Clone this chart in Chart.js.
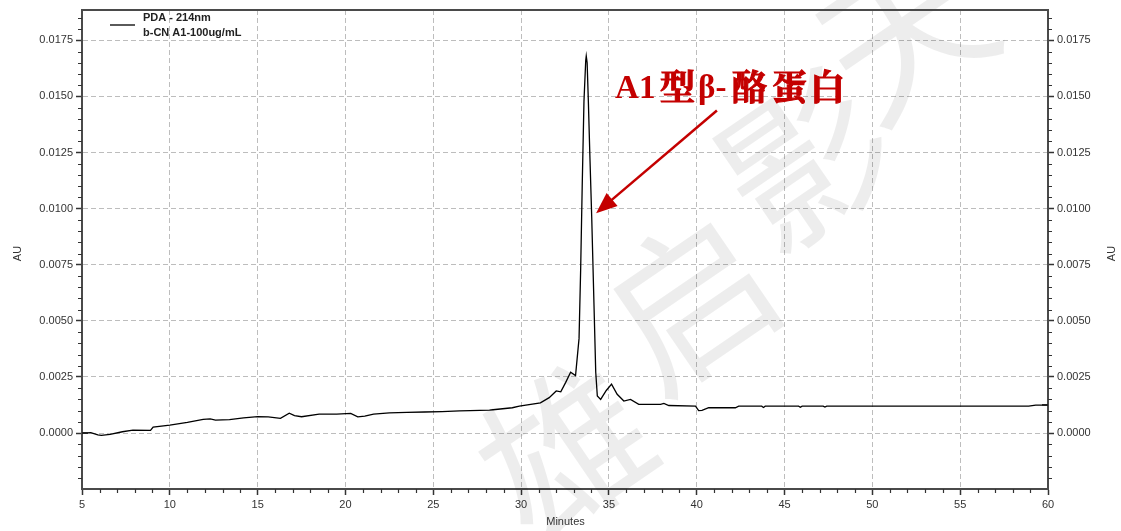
<!DOCTYPE html>
<html>
<head>
<meta charset="utf-8">
<script src="https://cdn.jsdelivr.net/npm/chart.js@4.4.1/dist/chart.umd.min.js"></script>
<style>
  html, body { margin: 0; padding: 0; background: #fff; }
  #wrap { width: 1121px; height: 531px; }
</style>
</head>
<body>
<div id="wrap"><canvas id="pda-chart" width="1121" height="531"></canvas></div>
<script>
// retention time (min) and absorbance (AU)
const minutes = [
  5.0, 5.5, 5.9, 6.1, 6.6, 7.3, 7.9, 8.9, 9.05, 10.0,
  11.0, 11.9, 12.3, 12.6, 13.4, 14.2, 15.0, 15.6, 16.3, 16.8,
  17.1, 17.5, 18.5, 19.5, 20.3, 20.7, 21.1, 21.6, 22.5, 23.5,
  24.5, 25.5, 26.5, 27.1, 28.2, 28.4, 29.5, 29.9, 31.1, 31.6,
  32.0, 32.26, 32.54, 32.82, 33.1, 33.3, 33.39, 33.48, 33.58, 33.68,
  33.71, 33.76, 33.83, 33.91, 34.02, 34.15, 34.25, 34.34, 34.53, 34.85,
  35.15, 35.47, 35.85, 36.23, 36.7, 37.94, 38.13, 38.41, 39.93, 40.11,
  40.3, 40.68, 42.2, 42.39, 43.7, 43.8, 43.9, 45.8, 45.9, 46.0,
  47.2, 47.3, 47.4, 50.0, 55.0, 58.9, 59.3, 60.0
];
const absorbance = [
  0.00000, 0.00002, -0.00008, -0.00010, -0.00006, 0.00006, 0.00013, 0.00012, 0.00027, 0.00036,
  0.00048, 0.00061, 0.00063, 0.00058, 0.00060, 0.00068, 0.00073, 0.00072, 0.00066, 0.00089,
  0.00078, 0.00073, 0.00085, 0.00085, 0.00088, 0.00072, 0.00076, 0.00085, 0.00090, 0.00092,
  0.00094, 0.00096, 0.00099, 0.00100, 0.00102, 0.00104, 0.00113, 0.00120, 0.00135, 0.00158,
  0.00188, 0.00184, 0.00226, 0.00271, 0.00256, 0.00422, 0.00724, 0.01101, 0.01478, 0.01660,
  0.01680, 0.01650, 0.01478, 0.01252, 0.00965, 0.00573, 0.00271, 0.00165, 0.00150, 0.00190,
  0.00218, 0.00173, 0.00143, 0.00150, 0.00128, 0.00128, 0.00132, 0.00123, 0.00120, 0.00100,
  0.00101, 0.00113, 0.00113, 0.00120, 0.00120, 0.00114, 0.00120, 0.00120, 0.00115, 0.00120,
  0.00120, 0.00116, 0.00120, 0.00120, 0.00120, 0.00120, 0.00125, 0.00125
];
const xTicks = [5, 10, 15, 20, 25, 30, 35, 40, 45, 50, 55, 60];
const yTicks = [0, 0.0025, 0.005, 0.0075, 0.01, 0.0125, 0.015, 0.0175];
const legendLines = ["PDA - 214nm", "b-CN A1-100ug/mL"];
const peakLabel = ["A1", "型", "β-", "酪", "蛋", "白"];
const watermark = ["雄", "启", "影", "天"];

const axisColor = "#4a4a4a";
const textColor = "#333333";
const labelFont = { family: "'Liberation Sans', Arial, sans-serif", size: 11 };

const yMin = -0.00249;
const yMax = 0.01885;

function yAxis(position, width) {
  return {
    type: "linear",
    position: position,
    min: yMin,
    max: yMax,
    afterBuildTicks: (scale) => {
      scale.ticks = yTicks.map((v) => ({ value: v }));
    },
    afterFit: (scale) => {
      scale.width = width;
    },
    ticks: {
      font: labelFont,
      color: textColor,
      padding: 3,
      callback: (v) => v.toFixed(4),
    },
    grid: {
      color: "#bdbdbd",
      drawOnChartArea: position === "left",
      tickLength: 6,
      tickColor: textColor,
      tickWidth: 1.5,
    },
    border: { color: axisColor, width: 2, dash: [5, 3] },
  };
}

const decor = {
  id: "decor",
  beforeDatasetsDraw(chart) {
    const ctx = chart.ctx;
    // faint diagonal watermark
    ctx.save();
    ctx.fillStyle = "rgba(0,0,0,0.07)";
    ctx.font = "165px 'Noto Sans CJK SC'";
    ctx.textAlign = "center";
    ctx.textBaseline = "middle";
    const centres = [[565, 450], [690, 300], [805, 160], [905, 30]];
    watermark.forEach((ch, i) => {
      ctx.save();
      ctx.translate(centres[i][0], centres[i][1]);
      ctx.rotate(-0.6);
      ctx.fillText(ch, 0, 0);
      ctx.restore();
    });
    ctx.restore();
  },
  afterDraw(chart) {
    const { ctx, chartArea: a, scales } = chart;
    const x = scales.x;
    const y = scales.y;
    ctx.save();

    // top frame line
    ctx.strokeStyle = axisColor;
    ctx.lineWidth = 2;
    ctx.beginPath();
    ctx.moveTo(a.left - 1, a.top);
    ctx.lineTo(a.right + 1, a.top);
    ctx.stroke();

    // minor ticks
    ctx.strokeStyle = textColor;
    ctx.lineWidth = 1.2;
    ctx.beginPath();
    for (let m = 6; m < 60; m++) {
      if (m % 5 === 0) continue;
      const px = Math.round(x.getPixelForValue(m)) + 0.5;
      ctx.moveTo(px, a.bottom);
      ctx.lineTo(px, a.bottom + 4);
    }
    for (let k = -4; k <= 37; k++) {
      if (k % 5 === 0) continue;
      const v = k * 0.0005;
      if (v < yMin || v > yMax) continue;
      const py = Math.round(y.getPixelForValue(v)) + 0.5;
      ctx.moveTo(a.left, py);
      ctx.lineTo(a.left - 4, py);
      ctx.moveTo(a.right, py);
      ctx.lineTo(a.right + 4, py);
    }
    ctx.stroke();

    // start / end baseline markers
    ctx.lineWidth = 2;
    ctx.strokeStyle = "#222";
    ctx.beginPath();
    const y0 = y.getPixelForValue(absorbance[0]);
    ctx.moveTo(a.left, y0);
    ctx.lineTo(a.left + 6, y0);
    const y1 = y.getPixelForValue(absorbance[absorbance.length - 1]);
    ctx.moveTo(a.right, y1);
    ctx.lineTo(a.right - 6, y1);
    ctx.stroke();

    // axis titles
    ctx.fillStyle = textColor;
    ctx.font = "11px 'Liberation Sans', Arial, sans-serif";
    ctx.textAlign = "center";
    ctx.textBaseline = "middle";
    ctx.fillText("Minutes", (a.left + a.right) / 2 + 0.5, 522);
    [18, 1112].forEach((cx) => {
      ctx.save();
      ctx.translate(cx, (a.top + a.bottom) / 2 + 4);
      ctx.rotate(-Math.PI / 2);
      ctx.fillText("AU", 0, 0);
      ctx.restore();
    });

    // legend
    ctx.strokeStyle = "#000";
    ctx.lineWidth = 1.3;
    ctx.beginPath();
    ctx.moveTo(110, 25);
    ctx.lineTo(135, 25);
    ctx.stroke();
    ctx.fillStyle = "#222";
    ctx.font = "bold 11px 'Liberation Sans', Arial, sans-serif";
    ctx.textAlign = "left";
    ctx.fillText(legendLines[0], 143, 18);
    ctx.fillText(legendLines[1], 143, 33);

    // peak annotation
    const red = "#c40000";
    const tipX = x.getPixelForValue(34.27);
    const tipY = y.getPixelForValue(0.0098);
    const tailX = x.getPixelForValue(41.15);
    const tailY = y.getPixelForValue(0.01437);
    const ang = Math.atan2(tipY - tailY, tipX - tailX);
    const headLen = 21;
    const headW = 8.5;
    ctx.strokeStyle = red;
    ctx.fillStyle = red;
    ctx.lineWidth = 2.5;
    ctx.beginPath();
    ctx.moveTo(tailX, tailY);
    ctx.lineTo(tipX - Math.cos(ang) * (headLen - 2), tipY - Math.sin(ang) * (headLen - 2));
    ctx.stroke();
    ctx.beginPath();
    ctx.moveTo(tipX, tipY);
    const bx = tipX - Math.cos(ang) * headLen;
    const by = tipY - Math.sin(ang) * headLen;
    ctx.lineTo(bx + Math.sin(ang) * headW, by - Math.cos(ang) * headW);
    ctx.lineTo(bx - Math.sin(ang) * headW, by + Math.cos(ang) * headW);
    ctx.closePath();
    ctx.fill();

    const baseX = x.getPixelForValue(35.35);
    const baseY = 98;
    const offsets = [0, 45, 83, 117, 157, 195];
    ctx.textBaseline = "alphabetic";
    ctx.lineWidth = 1.1;
    peakLabel.forEach((part, i) => {
      const latin = i === 0 || i === 2;
      ctx.font = latin
        ? "bold 33px 'Liberation Serif', 'Times New Roman', serif"
        : "bold 35px 'Noto Serif CJK SC', 'Noto Sans CJK SC', serif";
      const ty = latin ? baseY : baseY + 2;
      ctx.fillText(part, baseX + offsets[i], ty);
      if (!latin) ctx.strokeText(part, baseX + offsets[i], ty);
    });

    ctx.restore();
  },
};

new Chart(document.getElementById("pda-chart"), {
  type: "line",
  data: {
    datasets: [
      {
        label: legendLines.join(" "),
        data: minutes.map((m, i) => ({ x: m, y: absorbance[i] })),
        borderColor: "#000",
        borderWidth: 1.3,
        pointRadius: 0,
        tension: 0,
        fill: false,
      },
    ],
  },
  options: {
    responsive: false,
    animation: false,
    events: [],
    layout: { padding: { top: 10, left: 0, right: 0, bottom: 0 } },
    plugins: { legend: { display: false }, tooltip: { enabled: false } },
    scales: {
      x: {
        type: "linear",
        min: 5,
        max: 60,
        afterBuildTicks: (scale) => {
          scale.ticks = xTicks.map((v) => ({ value: v }));
        },
        afterFit: (scale) => {
          scale.height = 42;
        },
        ticks: { font: labelFont, color: textColor, padding: 3, maxRotation: 0 },
        grid: {
          color: "#bdbdbd",
          tickLength: 6,
          tickColor: textColor,
          tickWidth: 1.5,
        },
        border: { color: axisColor, width: 2, dash: [5, 3] },
      },
      y: yAxis("left", 82),
      y2: yAxis("right", 73),
    },
  },
  plugins: [decor],
});
</script>
</body>
</html>
